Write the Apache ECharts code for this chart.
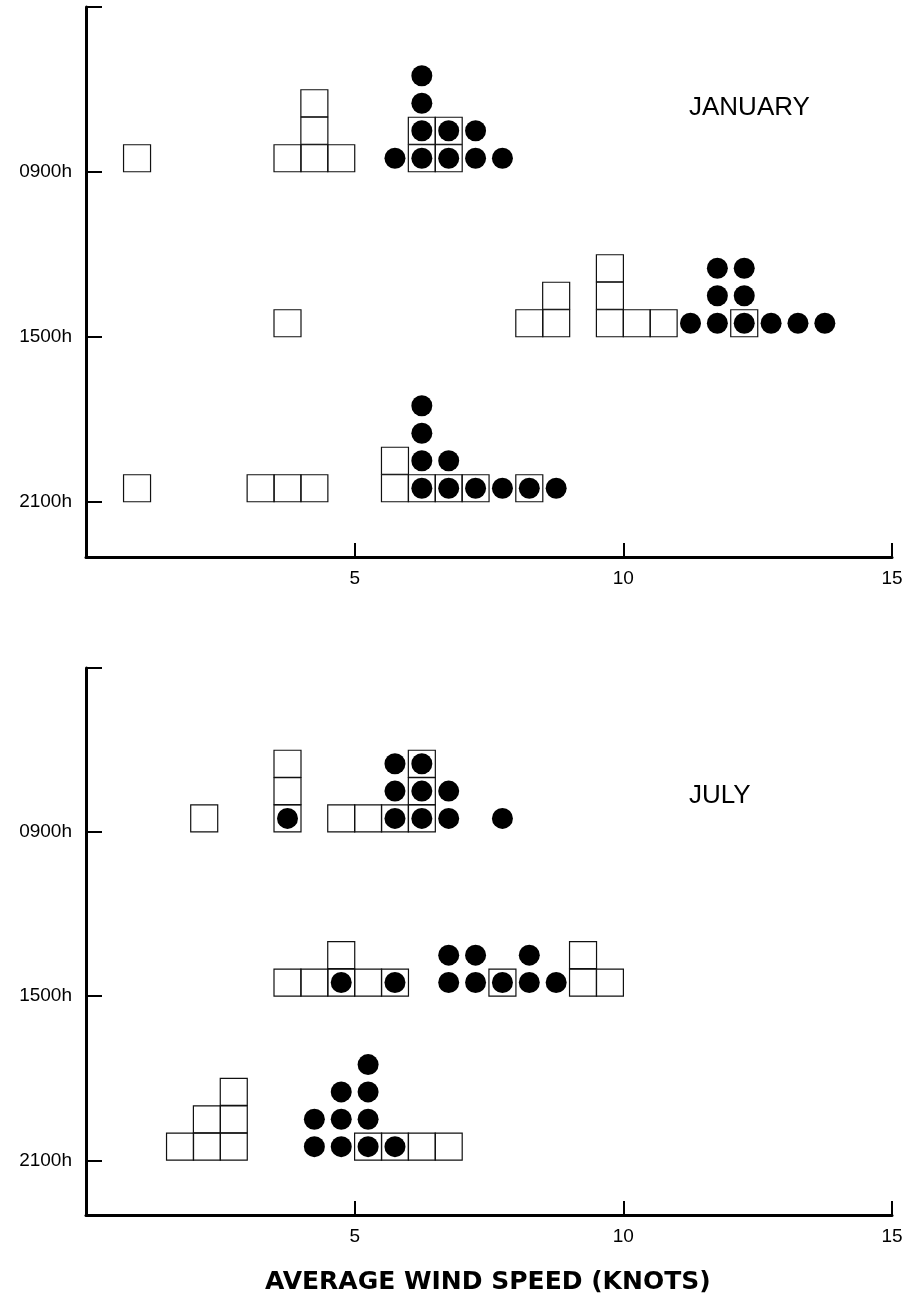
<!DOCTYPE html>
<html>
<head>
<meta charset="utf-8">
<script src="https://cdn.jsdelivr.net/npm/echarts@6/dist/echarts.min.js"></script>
<style>
  html, body { margin: 0; padding: 0; background: #fff; }
  #chart { width: 908px; height: 1307px; }
</style>
</head>
<body>
<div id="chart"></div>
<script>
  // [wind speed (knots), number of stacked marks]
  const timeLabels = ['0900h', '1500h', '2100h'];
  const timeBase = [12, 6, 0];
  const xTicks = [0, 5, 10, 15];

  const janSquares0900 = [[0.95, 1], [3.75, 1], [4.25, 3], [4.75, 1], [6.25, 2], [6.75, 2]];
  const janCircles0900 = [[5.75, 1], [6.25, 4], [6.75, 2], [7.25, 2], [7.75, 1]];
  const janSquares1500 = [[3.75, 1], [8.25, 1], [8.75, 2], [9.75, 3], [10.25, 1], [10.75, 1], [12.25, 1]];
  const janCircles1500 = [[11.25, 1], [11.75, 3], [12.25, 3], [12.75, 1], [13.25, 1], [13.75, 1]];
  const janSquares2100 = [[0.95, 1], [3.25, 1], [3.75, 1], [4.25, 1], [5.75, 2], [6.25, 1], [6.75, 1], [7.25, 1], [8.25, 1]];
  const janCircles2100 = [[6.25, 4], [6.75, 2], [7.25, 1], [7.75, 1], [8.25, 1], [8.75, 1]];

  const julSquares0900 = [[2.2, 1], [3.75, 3], [4.75, 1], [5.25, 1], [5.75, 1], [6.25, 3]];
  const julCircles0900 = [[3.75, 1], [5.75, 3], [6.25, 3], [6.75, 2], [7.75, 1]];
  const julSquares1500 = [[3.75, 1], [4.25, 1], [4.75, 2], [5.25, 1], [5.75, 1], [7.75, 1], [9.25, 2], [9.75, 1]];
  const julCircles1500 = [[4.75, 1], [5.75, 1], [6.75, 2], [7.25, 2], [7.75, 1], [8.25, 2], [8.75, 1]];
  const julSquares2100 = [[1.75, 1], [2.25, 2], [2.75, 3], [5.25, 1], [5.75, 1], [6.25, 1], [6.75, 1]];
  const julCircles2100 = [[4.25, 2], [4.75, 3], [5.25, 4], [5.75, 1]];

  const font = 'Liberation Sans, Arial, sans-serif';

  // one point per stacked mark, centred in its row above the time tick
  function stack(pairs, base) {
    const out = [];
    pairs.forEach(([x, n]) => {
      for (let k = 0; k < n; k++) out.push([x, base + k + 0.5]);
    });
    return out;
  }

  function panelSeries(idx, squares, circles) {
    const sq = [], ci = [];
    squares.forEach((p, i) => sq.push(...stack(p, timeBase[i])));
    circles.forEach((p, i) => ci.push(...stack(p, timeBase[i])));
    return [{
      type: 'scatter',
      xAxisIndex: idx,
      yAxisIndex: idx,
      symbol: 'rect',
      symbolSize: [27, 27],
      itemStyle: { color: 'rgba(0,0,0,0)', borderColor: '#111', borderWidth: 1.2, opacity: 1 },
      data: sq,
      z: 2
    }, {
      type: 'scatter',
      xAxisIndex: idx,
      yAxisIndex: idx,
      symbol: 'circle',
      symbolSize: 21,
      itemStyle: { color: '#000', opacity: 1 },
      data: ci,
      z: 3
    }];
  }

  function xAxis(idx) {
    return {
      type: 'value',
      gridIndex: idx,
      min: 0,
      max: 15,
      interval: 5,
      splitLine: { show: false },
      axisLine: { show: true, onZero: false, lineStyle: { color: '#000', width: 3 } },
      axisTick: { show: true, inside: true, length: 14, customValues: xTicks, lineStyle: { color: '#000', width: 2 } },
      axisLabel: {
        color: '#000', fontSize: 19, fontFamily: font, margin: 12,
        formatter: v => (v === 0 ? '' : String(v))
      }
    };
  }

  function yAxis(idx) {
    return {
      type: 'value',
      gridIndex: idx,
      min: -2,
      max: 18,
      splitLine: { show: false },
      axisLine: { show: true, onZero: false, lineStyle: { color: '#000', width: 3 } },
      axisTick: {
        show: true, inside: true, length: 16,
        customValues: timeBase.concat([18]),
        lineStyle: { color: '#000', width: 2 }
      },
      axisLabel: {
        color: '#000', fontSize: 19, fontFamily: font, margin: 14,
        customValues: timeBase,
        formatter: v => timeLabels[timeBase.indexOf(v)] || ''
      }
    };
  }

  const chart = echarts.init(document.getElementById('chart'));
  chart.setOption({
    animation: false,
    backgroundColor: '#fff',
    grid: [
      { left: 86, width: 806, top: 7, height: 550 },
      { left: 86, width: 806, top: 668, height: 547 }
    ],
    xAxis: [xAxis(0), xAxis(1)],
    yAxis: [yAxis(0), yAxis(1)],
    graphic: [
      { type: 'text', left: 689, top: 95, style: { text: 'JANUARY', font: '26px ' + font, fill: '#000' } },
      { type: 'text', left: 689, top: 783, style: { text: 'JULY', font: '26px ' + font, fill: '#000' } },
      { type: 'text', left: 265, top: 1270, style: { text: 'AVERAGE WIND SPEED (KNOTS)', font: 'bold 25px "DejaVu Sans", sans-serif', fill: '#000' } }
    ],
    series: [
      ...panelSeries(0, [janSquares0900, janSquares1500, janSquares2100], [janCircles0900, janCircles1500, janCircles2100]),
      ...panelSeries(1, [julSquares0900, julSquares1500, julSquares2100], [julCircles0900, julCircles1500, julCircles2100])
    ]
  });
</script>
</body>
</html>
